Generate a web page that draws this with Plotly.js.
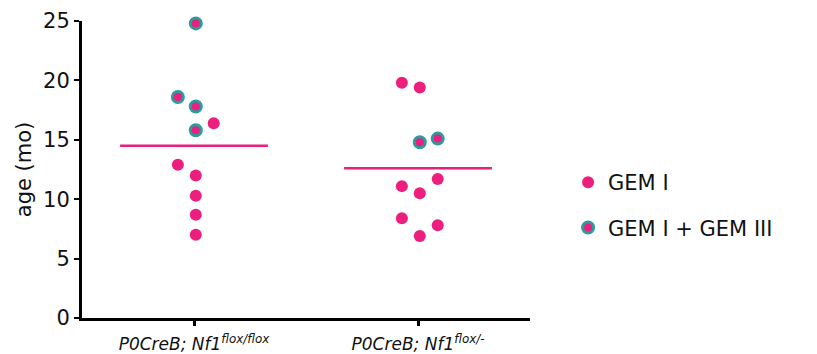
<!DOCTYPE html>
<html>
<head>
<meta charset="utf-8">
<script src="https://cdn.plot.ly/plotly-3.0.1.min.js"></script>
<style>html,body{margin:0;padding:0;background:#fff;}#chart{width:817px;height:354px;}</style>
</head>
<body>
<div id="chart"></div>
<script>
// Categories (x tick labels)
const categories = ["<i>P0CreB; Nf1<sup>flox/flox</sup></i>", "<i>P0CreB; Nf1<sup>flox/-</sup></i>"];

// GEM I only (pink dots): group index, dot column (-1 left, 0 centre, 1 right), age (mo)
const gem1Group  = [0, 0, 0, 0, 0, 0, 1, 1, 1, 1, 1, 1, 1, 1];
const gem1Col    = [1, -1, 0, 0, 0, 0, -1, 0, -1, 1, 0, -1, 1, 0];
const gem1Age    = [16.4, 12.9, 12.0, 10.3, 8.7, 7.0, 19.8, 19.4, 11.1, 11.7, 10.5, 8.4, 7.8, 6.9];

// GEM I + GEM III (teal-ringed dots)
const gem13Group = [0, 0, 0, 0, 1, 1];
const gem13Col   = [0, -1, 0, 0, 0, 1];
const gem13Age   = [24.8, 18.6, 17.8, 15.8, 14.8, 15.1];

// Group means (horizontal lines)
const meanAge = [14.5, 12.6];

const pink = "#EC1E7E", teal = "#2E9A9C";
const colStep = 0.08, colShift = 0.008, halfLine = 0.33;
function xs(groups, cols) {
  return groups.map((g, i) => g + colShift + cols[i] * colStep);
}

const traces = [];
meanAge.forEach((m, g) => {
  traces.push({
    x: [g - halfLine, g + halfLine], y: [m, m], mode: "lines", type: "scatter",
    line: {color: pink, width: 2.5}, showlegend: false, hoverinfo: "skip"
  });
});
traces.push({
  name: "GEM I", legendgroup: "a", type: "scatter", mode: "markers",
  x: xs(gem1Group, gem1Col), y: gem1Age,
  marker: {color: pink, size: 12, line: {width: 0}}, cliponaxis: false
});
traces.push({
  name: "GEM I + GEM III", legendgroup: "b", type: "scatter", mode: "markers",
  x: xs(gem13Group, gem13Col), y: gem13Age,
  marker: {color: pink, size: 11, line: {color: teal, width: 3}}, cliponaxis: false
});

const font = "'DejaVu Sans', sans-serif";
const layout = {
  width: 817, height: 354,
  margin: {l: 82, r: 287, t: 21, b: 36},
  paper_bgcolor: "#fff", plot_bgcolor: "#fff",
  showlegend: true,
  legend: {x: 1.085, y: 0.525, xanchor: "left", yanchor: "top",
           font: {family: font, size: 21, color: "#111"},
           tracegroupgap: 15, traceorder: "grouped", itemwidth: 30, bgcolor: "rgba(0,0,0,0)"},
  xaxis: {
    range: [-0.5, 1.5], tickmode: "array", tickvals: [0, 1], ticktext: categories,
    showgrid: false, zeroline: false, showline: true, linecolor: "#000", linewidth: 3,
    ticks: "outside", ticklen: 5, tickwidth: 3, tickcolor: "#000", ticklabelstandoff: 4,
    tickfont: {family: font, size: 17, color: "#111"}, fixedrange: true
  },
  yaxis: {
    range: [0, 25], tickvals: [0, 5, 10, 15, 20, 25],
    showgrid: false, zeroline: false, showline: true, linecolor: "#000", linewidth: 3,
    ticks: "outside", ticklen: 5, tickwidth: 2, tickcolor: "#000",
    tickfont: {family: font, size: 21, color: "#111"},
    title: {text: "age (mo)", font: {family: font, size: 21, color: "#111"}, standoff: 6},
    fixedrange: true
  }
};
Plotly.newPlot("chart", traces, layout, {displayModeBar: false, staticPlot: true});
</script>
</body>
</html>
